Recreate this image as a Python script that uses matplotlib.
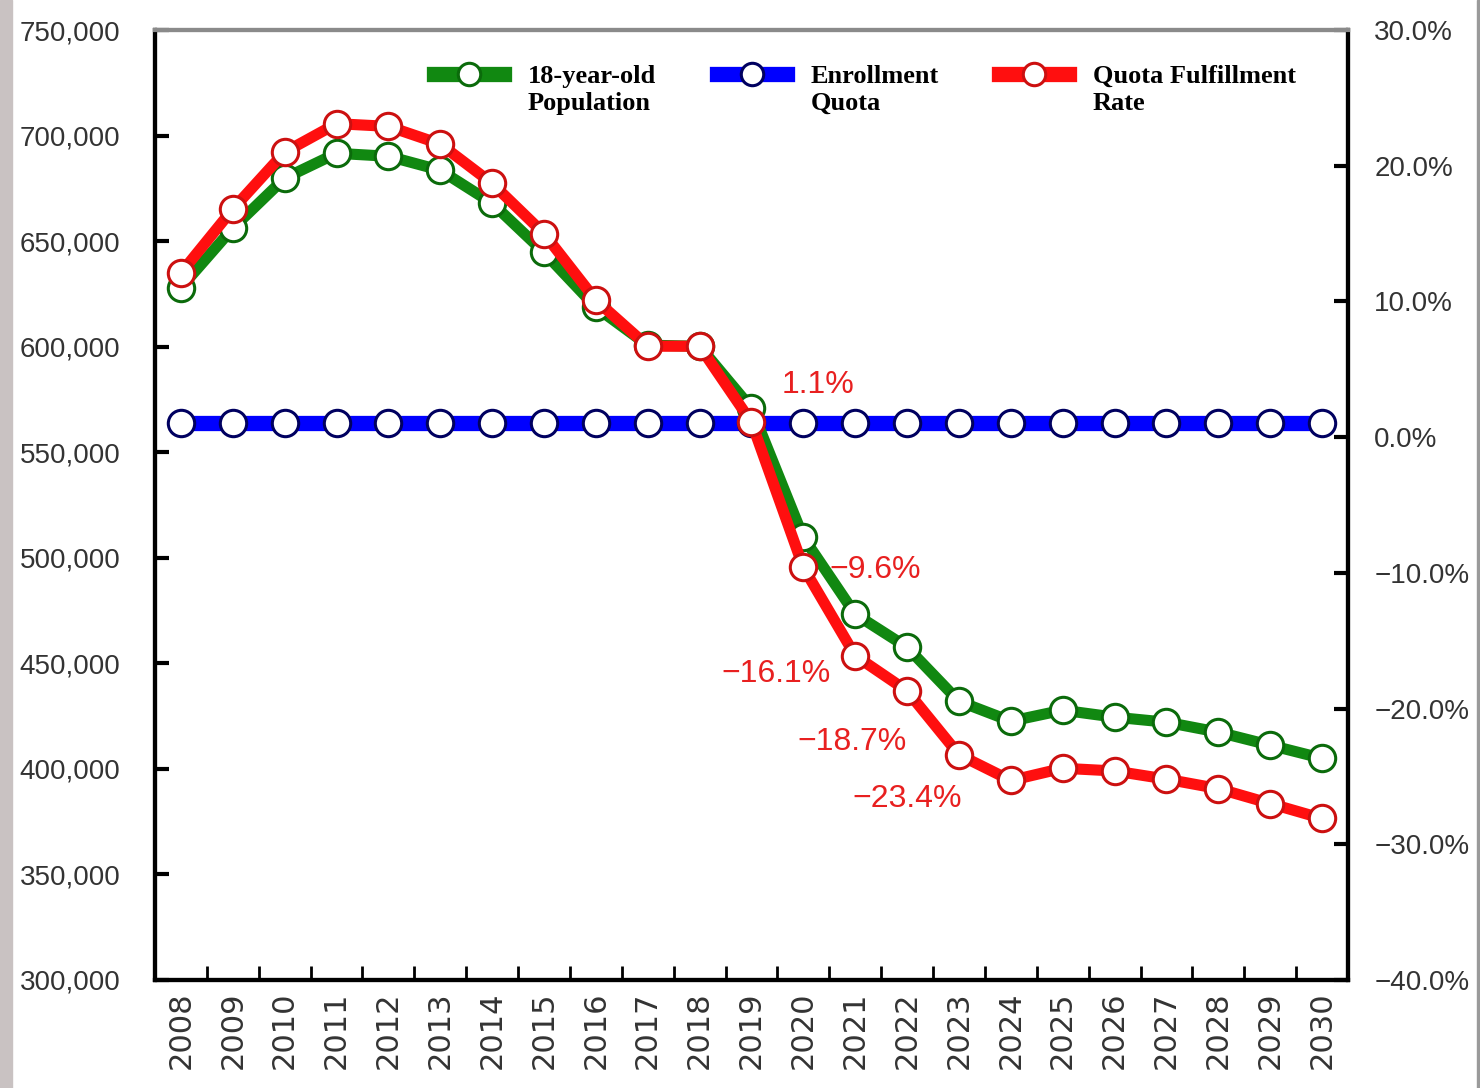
import matplotlib
matplotlib.use("Agg")
import numpy as np
import matplotlib.pyplot as plt
from matplotlib.patches import Rectangle

# years and series
years = list(range(2008, 2031))
population = [628000, 656100, 679800, 691600, 690200, 683600, 668000, 644700,
              618700, 600700, 600200, 570800, 509700, 473300, 457600, 432000,
              422600, 427800, 424500, 422100, 417400, 411200, 405000]
quota = [563700] * len(years)
fulfillment = [12.1, 16.8, 21.0, 23.1, 22.9, 21.6, 18.7, 15.0, 10.1, 6.7, 6.7,
               1.1, -9.6, -16.1, -18.7, -23.4, -25.3, -24.4, -24.6, -25.2,
               -25.9, -27.0, -28.1]

# labelled rates: (year, text, offset of the left edge in points)
rate_notes = [(2019, "1.1%", (22, 27)),
              (2020, "\u22129.6%", (19, -2)),
              (2021, "\u221216.1%", (-96, -13)),
              (2022, "\u221218.7%", (-79, -37)),
              (2023, "\u221223.4%", (-77, -32))]

sans = ["Liberation Sans", "DejaVu Sans"]

fig = plt.figure(figsize=(14.8, 10.88), dpi=100)
ax = fig.add_axes([0.1047, 0.0993, 0.8061, 0.8731])
ax2 = ax.twinx()

x = np.arange(len(years))

ax.plot(x, quota, color="#0000ff", lw=11, marker="o", ms=19,
        mfc="white", mec="#000060", mew=2.2, zorder=2, label="Enrollment\nQuota")
ax.plot(x, population, color="#118811", lw=8, marker="o", ms=19,
        mfc="white", mec="#0b6b0b", mew=2.2, zorder=3, label="18-year-old\nPopulation")
ax2.plot(x, fulfillment, color="#ff0f0f", lw=8, marker="o", ms=19,
         mfc="white", mec="#cc1010", mew=2.2, zorder=4, label="Quota Fulfillment\nRate")

ax.set_zorder(ax2.get_zorder() - 1)
ax.patch.set_visible(True)
ax2.patch.set_visible(False)

ax.set_xlim(-0.5, len(years) - 0.5)
ax.set_ylim(300000, 750000)
ax2.set_ylim(-40, 30)

ax.set_yticks(range(300000, 750001, 50000))
ax.set_yticklabels([f"{v:,}" for v in range(300000, 750001, 50000)],
                   family=sans, fontsize=20, color="#333333")
ax2.set_yticks(range(-40, 31, 10))
ax2.set_yticklabels([f"{v:.1f}%".replace("-", "\u2212") for v in range(-40, 31, 10)],
                    family=sans, fontsize=20, color="#333333")

ax.set_xticks(x)
ax.set_xticklabels([str(y) for y in years], rotation=90, fontsize=22,
                   color="#333333", va="top")
ax.set_xticks(np.arange(0.5, len(years) - 0.5), minor=True)
ax.tick_params(axis="x", which="major", length=0, pad=8)
ax.tick_params(axis="x", which="minor", direction="in", length=10, width=2)
ax.tick_params(axis="y", direction="in", length=10, width=3, pad=25)
ax2.tick_params(axis="y", direction="in", length=10, width=3, pad=19)

for a in (ax, ax2):
    for side in ("left", "right", "bottom"):
        a.spines[side].set_linewidth(3)
        a.spines[side].set_color("black")
    a.spines["top"].set_linewidth(3)
    a.spines["top"].set_color("#8a8a8a")

for yr, txt, off in rate_notes:
    i = years.index(yr)
    ax2.annotate(txt, (x[i], fulfillment[i]), xytext=off, textcoords="offset points",
                 color="#e82020", fontsize=23, family=sans, ha="left", va="center")

handles = [ax.lines[1], ax.lines[0], ax2.lines[0]]
leg = ax.legend(handles=handles, labels=[h.get_label() for h in handles],
                loc="upper left", bbox_to_anchor=(0.214, 0.988), ncol=3,
                frameon=False, handlelength=2.65, columnspacing=2.3,
                handletextpad=0.9, markerscale=0.85, labelspacing=0.5,
                prop={"family": "Liberation Serif", "weight": "bold", "size": 19})
for line in leg.get_lines():
    line.set_linewidth(11)
# put each key level with the first line of its label
for col in leg._legend_handle_box.get_children():
    for row in col.get_children():
        row.align = "top"

# grey strip on the left edge and thin line on the right
fig.patches.append(Rectangle((0, 0), 12 / 1480, 1, transform=fig.transFigure,
                             color="#c9c2c2", zorder=0))
fig.patches.append(Rectangle((1 - 3 / 1480, 0), 3 / 1480, 1, transform=fig.transFigure,
                             color="#9a9a9a", zorder=0))

fig.savefig("out.png", dpi=100)
